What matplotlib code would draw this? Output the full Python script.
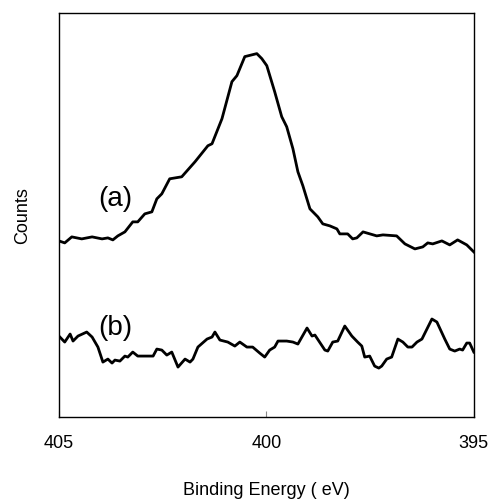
import matplotlib
matplotlib.use("Agg")
import matplotlib.pyplot as plt

plt.rcParams["font.family"] = ["Liberation Sans", "DejaVu Sans"]

# spectrum (a)
energy_a = [405.00, 404.86, 404.69, 404.45, 404.20, 403.96, 403.82, 403.70, 403.58, 403.41,
            403.22, 403.10, 402.93, 402.76, 402.64, 402.52, 402.33, 402.04, 401.72, 401.41,
            401.31, 401.07, 400.83, 400.71, 400.52, 400.23, 400.11, 399.99, 399.80, 399.63,
            399.51, 399.36, 399.24, 399.12, 398.95, 398.76, 398.64, 398.47, 398.30, 398.23,
            398.04, 397.92, 397.82, 397.67, 397.34, 397.19, 396.86, 396.66, 396.42, 396.23,
            396.11, 395.99, 395.77, 395.58, 395.39, 395.17, 395.00]
counts_a = [176, 174, 180, 178, 180, 178, 179, 177, 181, 185,
            195, 195, 203, 205, 218, 223, 238, 240, 255, 271,
            273, 298, 335, 341, 360, 363, 358, 351, 325, 300,
            290, 268, 245, 231, 208, 200, 193, 191, 188, 183,
            183, 178, 179, 185, 181, 182, 181, 173, 168, 170,
            174, 173, 176, 172, 177, 172, 165]

# spectrum (b)
energy_b = [405.00, 404.86, 404.73, 404.66, 404.54, 404.33, 404.20, 404.06, 403.94, 403.82,
            403.72, 403.65, 403.53, 403.41, 403.34, 403.22, 403.10, 402.93, 402.73, 402.64,
            402.52, 402.40, 402.28, 402.13, 401.96, 401.84, 401.77, 401.65, 401.43, 401.31,
            401.24, 401.12, 400.93, 400.76, 400.64, 400.47, 400.33, 400.16, 400.04, 399.92,
            399.80, 399.72, 399.51, 399.36, 399.24, 399.02, 398.90, 398.83, 398.59, 398.52,
            398.40, 398.28, 398.11, 397.94, 397.80, 397.70, 397.63, 397.51, 397.39, 397.29,
            397.22, 397.10, 396.98, 396.83, 396.71, 396.59, 396.49, 396.37, 396.25, 396.13,
            396.01, 395.89, 395.70, 395.58, 395.46, 395.34, 395.27, 395.17, 395.10, 395.00]
counts_b = [81, 75, 83, 76, 81, 85, 80, 70, 55, 58,
            54, 57, 56, 61, 60, 65, 61, 61, 61, 68,
            67, 62, 65, 50, 58, 55, 58, 70, 78, 80,
            85, 77, 75, 71, 75, 70, 70, 64, 60, 67,
            70, 76, 76, 75, 73, 89, 81, 82, 67, 66,
            75, 76, 91, 81, 75, 71, 60, 61, 51, 49,
            51, 58, 60, 78, 75, 70, 70, 75, 78, 88,
            98, 95, 78, 68, 66, 68, 67, 74, 74, 65]

xticks = [405, 400, 395]

fig = plt.figure(figsize=(4.91, 5.02), dpi=100)
ax = fig.add_axes([0.120, 0.167, 0.845, 0.806])

ax.plot(energy_a, counts_a, color="black", linewidth=2.0)
ax.plot(energy_b, counts_b, color="black", linewidth=2.0)

ax.set_xlim(405, 395)
ax.set_ylim(0, 404)
ax.set_xticks(xticks)
ax.set_xticklabels([str(t) for t in xticks])
ax.set_yticks([])
ax.tick_params(axis="x", direction="in", length=4, color="#888888",
               labelsize=13, pad=12)

for s in ax.spines.values():
    s.set_linewidth(1.0)
    s.set_color("black")

ax.text(404.06, 219, "(a)", fontsize=20, ha="left", va="center")
ax.text(404.06, 90, "(b)", fontsize=20, ha="left", va="center")

ax.set_xlabel("Binding Energy ( eV)", fontsize=13, labelpad=22)
ax.set_ylabel("Counts", fontsize=13, labelpad=20)

fig.savefig("out.png", dpi=100, facecolor="white")
